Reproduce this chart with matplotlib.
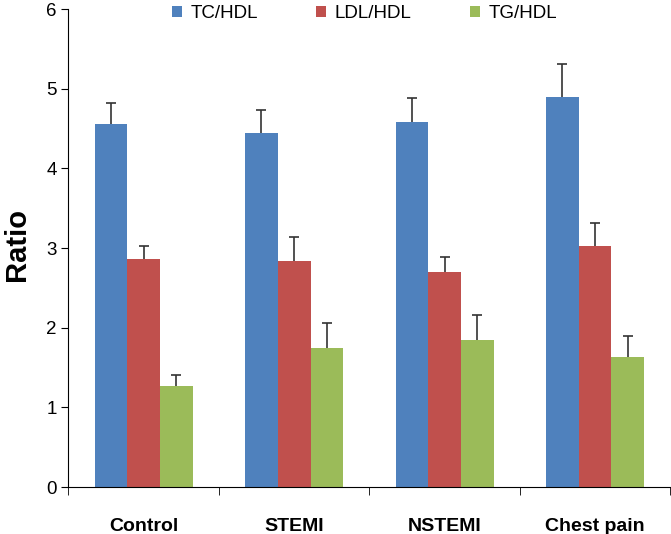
import numpy as np
import matplotlib.pyplot as plt

plt.rcParams['font.family'] = ['Liberation Sans', 'DejaVu Sans']

groups = ['Control', 'STEMI', 'NSTEMI', 'Chest pain']
series = ['TC/HDL', 'LDL/HDL', 'TG/HDL']
tc_hdl = [4.56, 4.45, 4.58, 4.90]
ldl_hdl = [2.86, 2.84, 2.70, 3.02]
tg_hdl = [1.27, 1.75, 1.84, 1.63]
tc_err = [0.26, 0.28, 0.30, 0.41]
ldl_err = [0.17, 0.30, 0.19, 0.30]
tg_err = [0.13, 0.31, 0.32, 0.27]

colors = ['#4f81bd', '#c0504d', '#9bbb59']
values = [tc_hdl, ldl_hdl, tg_hdl]
errors = [tc_err, ldl_err, tg_err]

fig = plt.figure(figsize=(6.71, 5.34), dpi=100)
ax = fig.add_axes([0.102, 0.088, 0.897, 0.895])

x = np.arange(len(groups))
w = 0.2175
for i in range(3):
    bc = ax.bar(x + (i - 1) * w, values[i], w, color=colors[i], label=series[i],
                yerr=[np.zeros(4), errors[i]],
                error_kw=dict(ecolor='#333333', elinewidth=1.2, capsize=3.8, capthick=1.2))
    # only the upper whisker is drawn in the original
    bc.errorbar.lines[1][0].set_visible(False)

ax.set_xlim(-0.5, 3.5)
ax.set_ylim(0, 6)
ax.set_yticks(range(7))
ax.tick_params(axis='y', labelsize=13.5, length=5, direction='out')
ax.set_xticks(x)
ax.set_xticklabels(groups, fontsize=14, fontweight='bold')
ax.tick_params(axis='x', length=0, pad=22)
ax.set_xticks(np.arange(-0.5, 4, 1), minor=True)
ax.tick_params(axis='x', which='minor', length=6, direction='out')
for s in ['top', 'right']:
    ax.spines[s].set_visible(False)
ax.set_ylabel('Ratio', fontsize=21, fontweight='bold', labelpad=11)
ax.yaxis.label.set_y(0.508)

fig.legend(loc='center', bbox_to_anchor=(0.543, 0.974), ncol=3, frameon=False,
           fontsize=13.5, handlelength=0.55, handleheight=0.55, handletextpad=0.45,
           columnspacing=3.1)

fig.savefig('out.png', dpi=100)
